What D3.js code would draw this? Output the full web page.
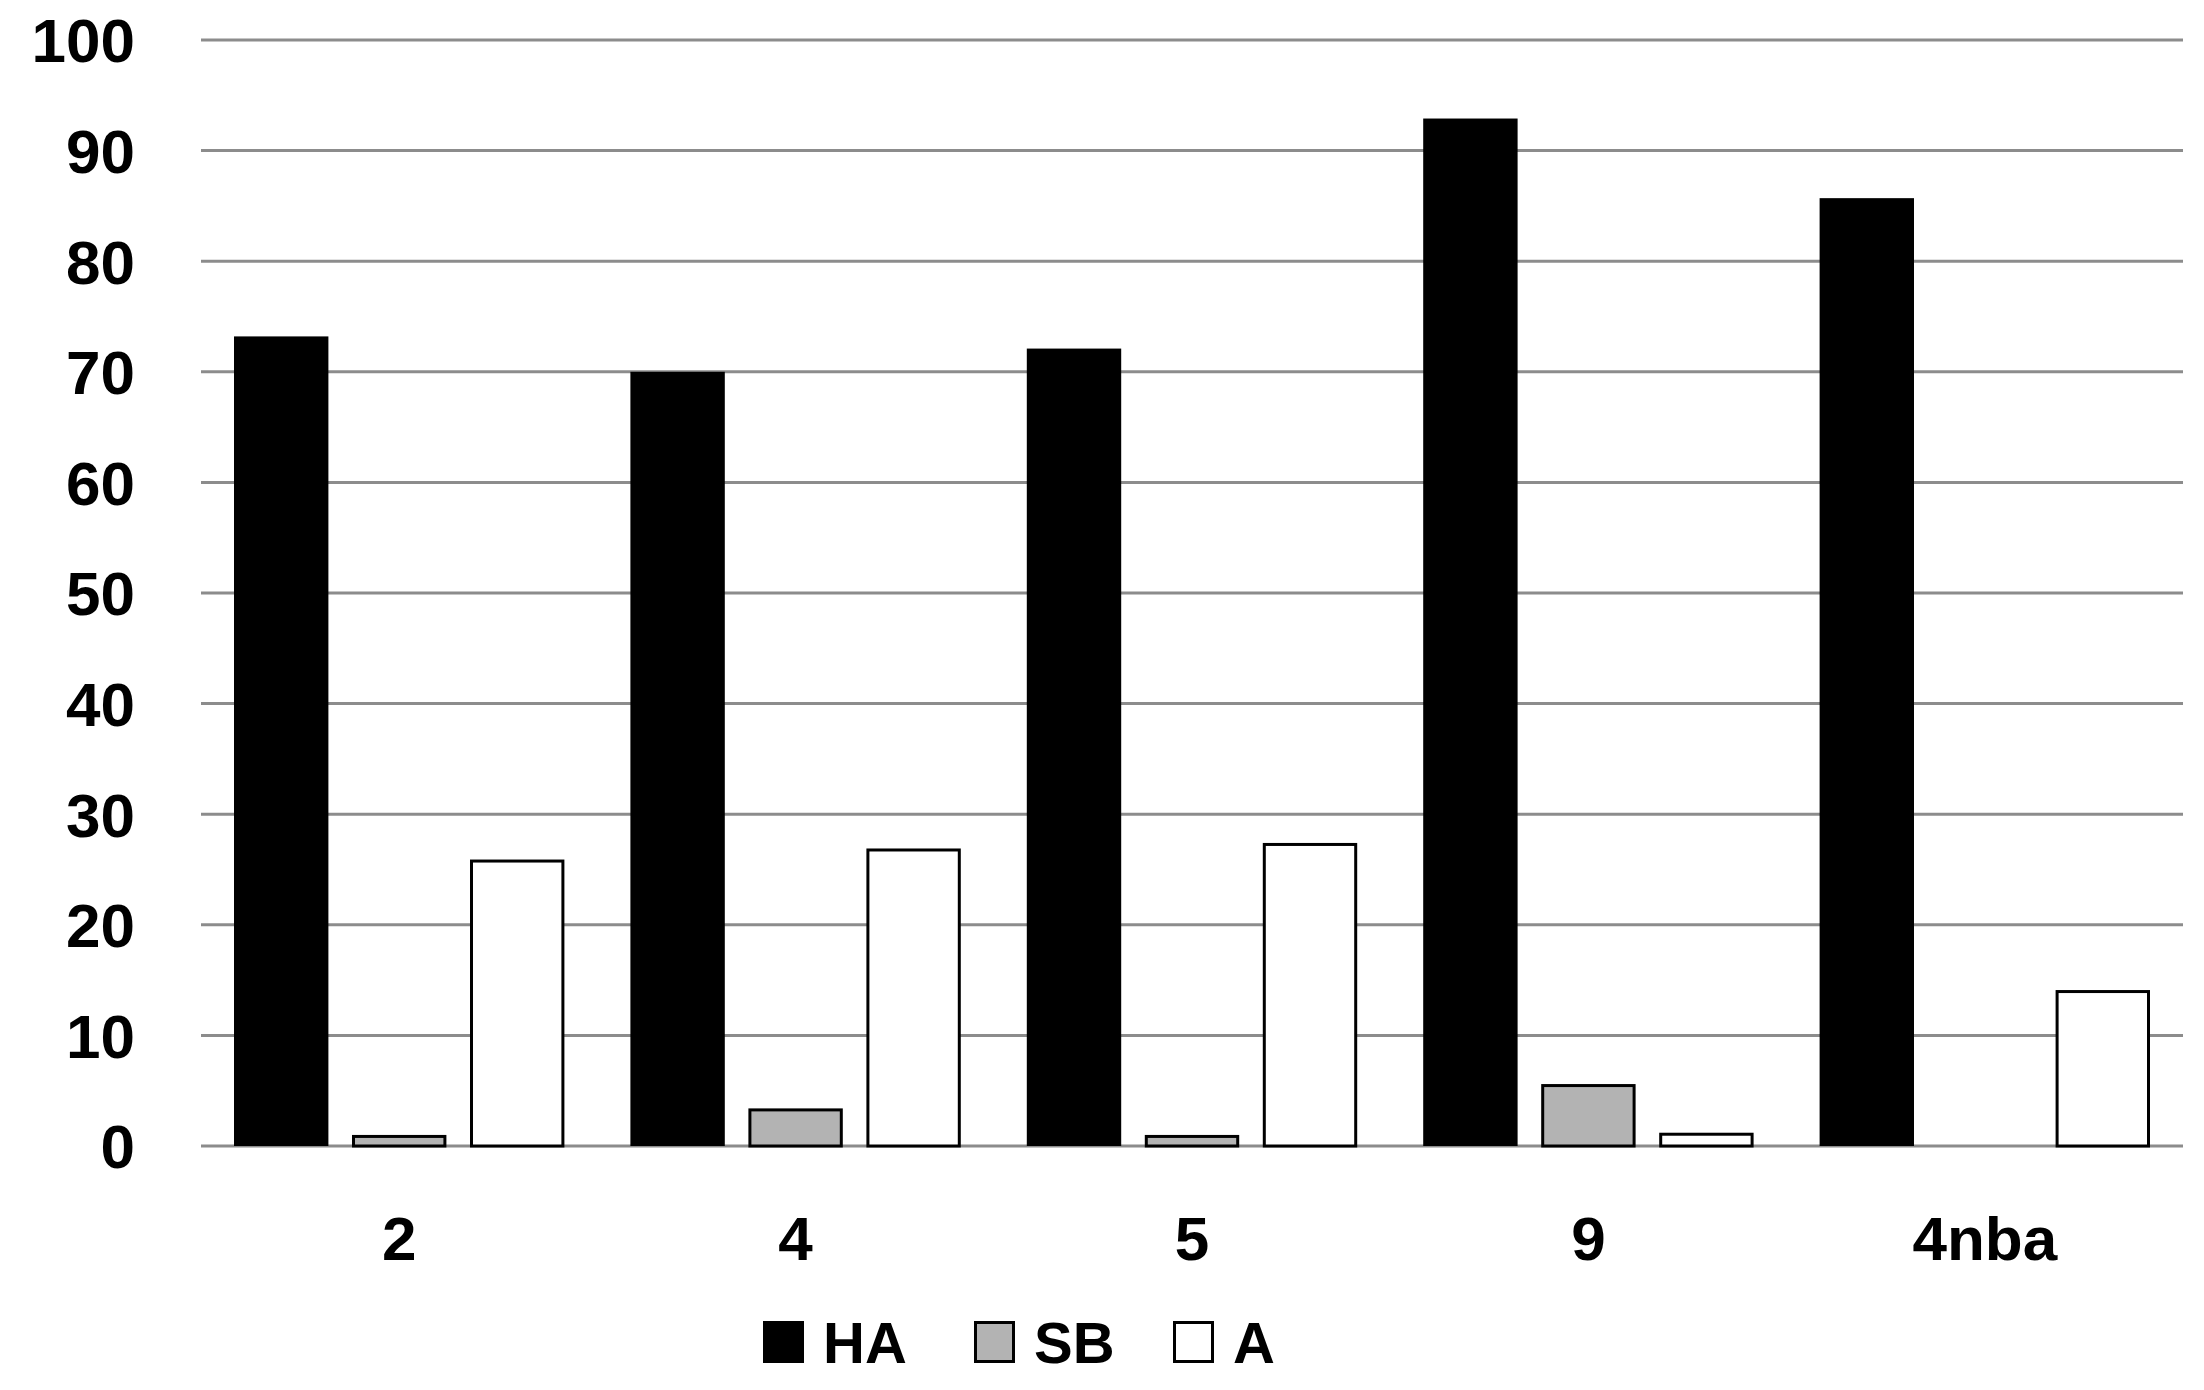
<!DOCTYPE html>
<html><head><meta charset="utf-8">
<script src="https://cdn.jsdelivr.net/npm/d3@7"></script>
<style>body{margin:0;background:#fff}svg{display:block}text{font-family:"Liberation Sans",Arial,sans-serif;font-weight:bold;fill:#000}</style>
</head><body>
<svg id="c" width="2204" height="1390"></svg>
<script>
const categories = ["2", "4", "5", "9", "4nba"];
const seriesNames = ["HA", "SB", "A"];
const HA = [73.2, 70.0, 72.1, 92.9, 85.7];
const SB = [1.0, 3.4, 1.0, 5.6, 0];
const A  = [25.9, 26.9, 27.4, 1.2, 14.1];
const yTicks = [0, 10, 20, 30, 40, 50, 60, 70, 80, 90, 100];
const seriesValues = [HA, SB, A];
const fills = ["#000000", "#b3b3b3", "#ffffff"];

(function () {
const svg = d3.select("#c");
const mLeft = 201, mRight = 2183, mTop = 40, mBottom = 1146;
const x = d3.scaleBand().domain(categories).range([mLeft, mRight]).paddingInner(0).paddingOuter(0);
const inner = d3.scaleBand().domain(seriesNames).range([33, x.bandwidth() - 33]).paddingInner(0.2).paddingOuter(0);
const y = d3.scaleLinear().domain([0, 100]).range([mBottom, mTop]);

// gridlines
svg.append("g").selectAll("line").data(yTicks).join("line")
  .attr("x1", mLeft).attr("x2", mRight)
  .attr("y1", d => y(d)).attr("y2", d => y(d))
  .attr("stroke", "#8c8c8c").attr("stroke-width", 3);

// y labels
svg.append("g").selectAll("text").data(yTicks).join("text")
  .attr("x", 135).attr("y", d => y(d)).attr("dy", "0.36em")
  .attr("text-anchor", "end").attr("font-size", 62).text(d => d);

// bars
seriesNames.forEach((s, si) => {
  svg.append("g").selectAll("rect").data(categories.map((c, i) => ({c, v: seriesValues[si][i]})).filter(d => d.v > 0))
    .join("rect")
    .attr("x", d => x(d.c) + inner(s) + (si ? 1.5 : 0))
    .attr("width", inner.bandwidth() - (si ? 3 : 0))
    .attr("y", d => y(d.v) + (si ? 1.5 : 0))
    .attr("height", d => y(0) - y(d.v) - (si ? 1.5 : 0))
    .attr("fill", fills[si])
    .attr("stroke", si ? "#000" : "none")
    .attr("stroke-width", si ? 3 : 0);
});

// x labels
svg.append("g").selectAll("text").data(categories).join("text")
  .attr("x", d => x(d) + x.bandwidth() / 2).attr("y", 1260)
  .attr("text-anchor", "middle").attr("font-size", 62).text(d => d);

// legend
const legendX = [763, 974, 1173];
const ly = 1342, sw = 41;
seriesNames.forEach((s, i) => {
  const lx = legendX[i];
  const g = svg.append("g");
  g.append("rect").attr("x", lx + 1.5).attr("y", ly - 21 + 1.5).attr("width", sw - 3).attr("height", 42 - 3)
    .attr("fill", fills[i]).attr("stroke", "#000").attr("stroke-width", 3);
  g.append("text").attr("x", lx + sw + 19).attr("y", ly).attr("dy", "0.36em")
    .attr("font-size", 58).attr("textLength", null).text(s);
});
})();
</script>
</body></html>
